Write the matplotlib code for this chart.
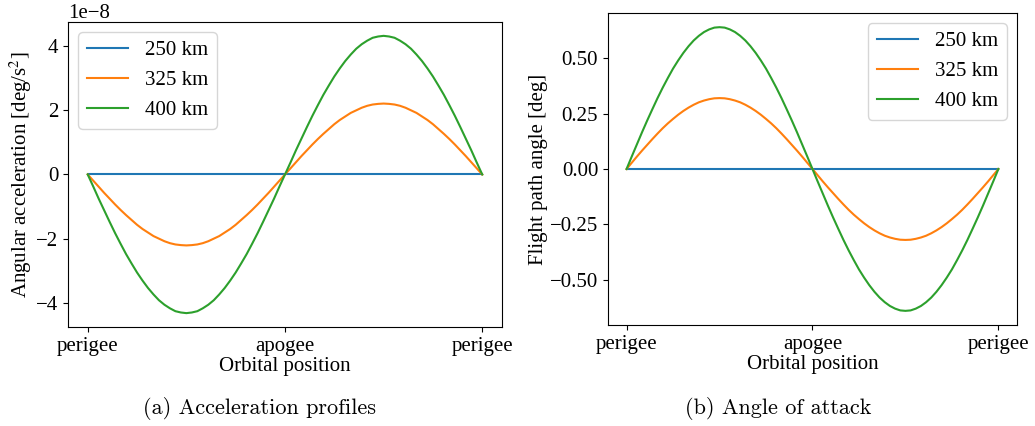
import matplotlib
matplotlib.use("Agg")
import matplotlib.pyplot as plt

plt.rcParams['font.family'] = ['Liberation Serif', 'DejaVu Serif']
plt.rcParams['mathtext.fontset'] = 'stix'
plt.rcParams['font.size'] = 15

# orbital position in degrees, every 5 deg from perigee to perigee
pos = list(range(0, 361, 5))
tick_pos = [0, 180, 360]
tick_labels = ["perigee", "apogee", "perigee"]
labels = ["250 km", "325 km", "400 km"]

# angular acceleration, units of 1e-8 deg/s^2
acc_250 = [0.0] * 73
acc_325 = [0, -0.19, -0.38, -0.57, -0.75, -0.93, -1.10, -1.26, -1.41, -1.56, -1.69, -1.80, -1.91,
           -1.99, -2.07, -2.13, -2.17, -2.19, -2.20, -2.19, -2.17, -2.13, -2.07, -1.99, -1.91,
           -1.80, -1.69, -1.56, -1.41, -1.26, -1.10, -0.93, -0.75, -0.57, -0.38, -0.19, 0,
           0.19, 0.38, 0.57, 0.75, 0.93, 1.10, 1.26, 1.41, 1.56, 1.69, 1.80, 1.91,
           1.99, 2.07, 2.13, 2.17, 2.19, 2.20, 2.19, 2.17, 2.13, 2.07, 1.99, 1.91,
           1.80, 1.69, 1.56, 1.41, 1.26, 1.10, 0.93, 0.75, 0.57, 0.38, 0.19, 0]
acc_400 = [0, -0.37, -0.75, -1.11, -1.47, -1.82, -2.15, -2.47, -2.76, -3.04, -3.29, -3.52, -3.72,
           -3.90, -4.04, -4.15, -4.24, -4.28, -4.30, -4.28, -4.24, -4.15, -4.04, -3.90, -3.72,
           -3.52, -3.29, -3.04, -2.76, -2.47, -2.15, -1.82, -1.47, -1.11, -0.75, -0.37, 0,
           0.37, 0.75, 1.11, 1.47, 1.82, 2.15, 2.47, 2.76, 3.04, 3.29, 3.52, 3.72,
           3.90, 4.04, 4.15, 4.24, 4.28, 4.30, 4.28, 4.24, 4.15, 4.04, 3.90, 3.72,
           3.52, 3.29, 3.04, 2.76, 2.47, 2.15, 1.82, 1.47, 1.11, 0.75, 0.37, 0]

# flight path angle, deg
fpa_250 = [0.0] * 73
fpa_325 = [0, 0.028, 0.056, 0.083, 0.109, 0.135, 0.160, 0.184, 0.206, 0.226, 0.245, 0.262, 0.277,
           0.290, 0.301, 0.309, 0.315, 0.319, 0.320, 0.319, 0.315, 0.309, 0.301, 0.290, 0.277,
           0.262, 0.245, 0.226, 0.206, 0.184, 0.160, 0.135, 0.109, 0.083, 0.056, 0.028, 0,
           -0.028, -0.056, -0.083, -0.109, -0.135, -0.160, -0.184, -0.206, -0.226, -0.245, -0.262, -0.277,
           -0.290, -0.301, -0.309, -0.315, -0.319, -0.320, -0.319, -0.315, -0.309, -0.301, -0.290, -0.277,
           -0.262, -0.245, -0.226, -0.206, -0.184, -0.160, -0.135, -0.109, -0.083, -0.056, -0.028, 0]
fpa_400 = [0, 0.056, 0.111, 0.166, 0.219, 0.270, 0.320, 0.367, 0.411, 0.453, 0.490, 0.524, 0.554,
           0.580, 0.601, 0.618, 0.630, 0.638, 0.640, 0.638, 0.630, 0.618, 0.601, 0.580, 0.554,
           0.524, 0.490, 0.453, 0.411, 0.367, 0.320, 0.270, 0.219, 0.166, 0.111, 0.056, 0,
           -0.056, -0.111, -0.166, -0.219, -0.270, -0.320, -0.367, -0.411, -0.453, -0.490, -0.524, -0.554,
           -0.580, -0.601, -0.618, -0.630, -0.638, -0.640, -0.638, -0.630, -0.618, -0.601, -0.580, -0.554,
           -0.524, -0.490, -0.453, -0.411, -0.367, -0.320, -0.270, -0.219, -0.166, -0.111, -0.056, 0]

fig = plt.figure(figsize=(10.35, 4.26), dpi=100)
ax1 = fig.add_axes([0.0657, 0.2324, 0.4193, 0.7160])
ax2 = fig.add_axes([0.5874, 0.2370, 0.3952, 0.7325])

for ys, lab in zip([acc_250, acc_325, acc_400], labels):
    ax1.plot(pos, [v * 1e-8 for v in ys], label=lab)
ax1.set_xticks(tick_pos, tick_labels)
ax1.set_xlabel("Orbital position", labelpad=1)
ax1.set_ylabel("Angular acceleration [deg/s$^2$]", labelpad=1.5)
ax1.legend(loc="upper left")

for ys, lab in zip([fpa_250, fpa_325, fpa_400], labels):
    ax2.plot(pos, ys, label=lab)
ax2.set_xticks(tick_pos, tick_labels)
ax2.set_xlabel("Orbital position", labelpad=1)
ax2.set_ylabel("Flight path angle [deg]", labelpad=1.5)
ax2.set_yticks([-0.5, -0.25, 0, 0.25, 0.5])
ax2.legend(loc="upper right")

fig.text(0.2512, 0.042, "(a) Acceleration profiles", ha="center", va="center",
         fontfamily="cmr10", fontsize=16)
fig.text(0.7517, 0.042, "(b) Angle of attack", ha="center", va="center",
         fontfamily="cmr10", fontsize=16)

fig.savefig("out.png", dpi=100)
